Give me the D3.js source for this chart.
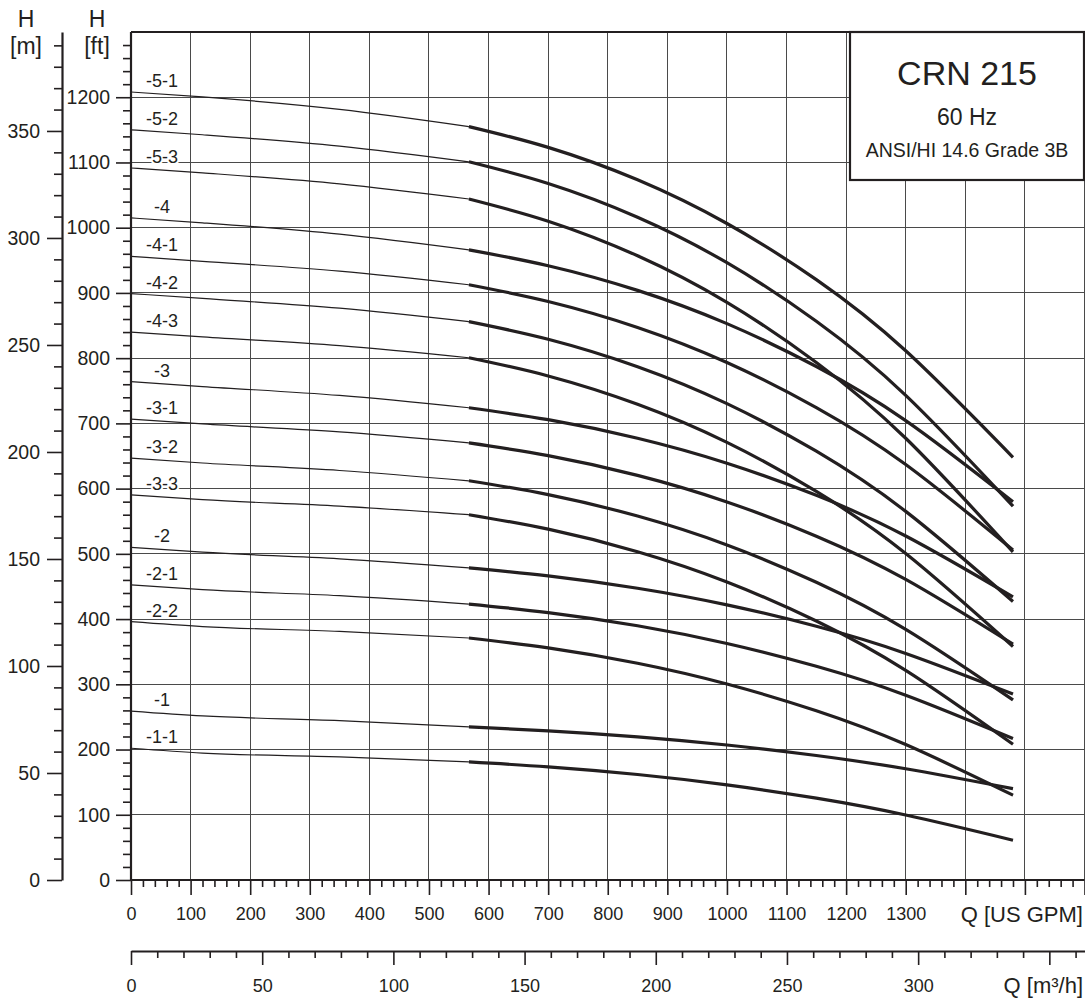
<!DOCTYPE html>
<html><head><meta charset="utf-8">
<script src="https://cdn.jsdelivr.net/npm/d3@7"></script>
<style>
html,body{margin:0;padding:0;background:#fff;}
svg{display:block;}
text{font-family:"Liberation Sans",Arial,Helvetica,sans-serif;fill:#231f20;}
</style></head><body>
<svg id="chart" width="1085" height="998"></svg>
<script>
// ---------------- data ----------------
const curveLabels = ["-5-1","-5-2","-5-3","-4","-4-1","-4-2","-4-3","-3","-3-1","-3-2","-3-3","-2","-2-1","-2-2","-1","-1-1"];
// thin (outside recommended range) part, flow in US GPM, head in ft
const flowThin = [0, 120, 350, 567];
const headThin = [
  [1208, 1200.5, 1181.4, 1155],
  [1150, 1142.5, 1125.1, 1101],
  [1091.5, 1084, 1067.2, 1044],
  [1015, 1007.5, 990.1, 966],
  [956, 948.5, 933.4, 912.5],
  [899, 891.5, 876.6, 856],
  [840, 832.5, 819.1, 800.6],
  [764, 756.5, 742.8, 724],
  [706.6, 699.1, 686.9, 670],
  [646.8, 639.3, 627.8, 612],
  [590.5, 583, 573.3, 560],
  [510, 502.5, 492.4, 478.5],
  [452.5, 445, 435.8, 423],
  [396, 388.5, 381.1, 371],
  [259, 251.5, 244.4, 234.7],
  [202, 194.5, 188.8, 181]
];
// thick (recommended range) part
const flowThick = [567, 700, 850, 1000, 1150, 1300, 1480];
const headThick = [
  [1155, 1123.1, 1073.4, 1006.4, 920.3, 811.3, 648],
  [1101, 1067.7, 1016.0, 946.3, 856.5, 743.0, 573],
  [1044, 1009.9, 956.9, 885.5, 793.4, 677.2, 503],
  [966, 941.7, 903.9, 852.9, 787.2, 704.3, 580],
  [912.5, 886.9, 847.1, 793.4, 724.2, 636.9, 506],
  [856, 829.0, 786.9, 730.3, 657.3, 565.1, 427],
  [800.6, 772.7, 729.3, 670.9, 595.6, 500.5, 358],
  [724, 705.7, 677.3, 639.0, 589.7, 527.4, 434],
  [670, 650.6, 620.3, 579.6, 527.1, 460.8, 361.5],
  [612, 590.8, 557.9, 513.6, 456.4, 384.2, 276],
  [560, 537.8, 503.3, 456.9, 397.0, 321.3, 208],
  [478.5, 466.3, 447.3, 421.8, 388.9, 347.3, 285],
  [423, 410.0, 389.8, 362.6, 327.6, 283.3, 217],
  [371, 355.8, 332.2, 300.4, 259.4, 207.6, 130],
  [234.7, 228.7, 219.5, 207.0, 190.9, 170.5, 140],
  [181, 173.4, 161.7, 145.8, 125.4, 99.6, 61]
];
const gpmTickLabels = [0,100,200,300,400,500,600,700,800,900,1000,1100,1200,1300];
const m3hTickLabels = [0,50,100,150,200,250,300];
const ftTickLabels = [0,100,200,300,400,500,600,700,800,900,1000,1100,1200];
const mTickLabels = [0,50,100,150,200,250,300,350];
const titleLines = ["CRN 215","60 Hz","ANSI/HI 14.6 Grade 3B"];
const GPM_MAX = 1600, FT_MAX = 1300;
const GPM_PER_M3H = 4.402868, M_PER_FT = 0.3048;

// ---------------- layout ----------------
const INK = "#231f20";
const X0 = 131, X1 = 1084.5, Y0 = 880, Y1 = 32;
const svg = d3.select("#chart");
const x = d3.scaleLinear().domain([0, GPM_MAX]).range([X0, X1]);
const xm = d3.scaleLinear().domain([0, GPM_MAX / GPM_PER_M3H]).range([X0, X1]);
const y = d3.scaleLinear().domain([0, FT_MAX]).range([Y0, Y1]);
const ym = d3.scaleLinear().domain([0, FT_MAX * M_PER_FT]).range([Y0, Y1]);
const fmt = d => String(d);

// grid
const grid = svg.append("g").attr("stroke", "#4a4a4a").attr("stroke-width", 1).attr("shape-rendering", "crispEdges");
grid.selectAll("line.v").data(d3.range(100, GPM_MAX + 1, 100)).join("line")
  .attr("x1", d => x(d)).attr("x2", d => x(d)).attr("y1", Y1).attr("y2", Y0);
grid.selectAll("line.h").data(d3.range(100, FT_MAX, 100)).join("line")
  .attr("class", "h").attr("x1", X0).attr("x2", X1).attr("y1", d => y(d)).attr("y2", d => y(d));

// curves
const line = d3.line().x(d => x(d[0])).y(d => y(d[1]));
const curves = svg.append("g").attr("fill", "none").attr("stroke", INK);
headThin.forEach((row, i) => {
  curves.append("path").attr("stroke-width", 1.2)
    .attr("d", line.curve(d3.curveMonotoneX)(flowThin.map((q, j) => [q, row[j]])));
  curves.append("path").attr("stroke-width", 3.2)
    .attr("d", line.curve(d3.curveNatural)(flowThick.map((q, j) => [q, headThick[i][j]])));
});

// curve labels
svg.append("g").selectAll("text").data(curveLabels).join("text")
  .attr("x", 162).attr("y", (d, i) => y(headThin[i][0]) - 5)
  .attr("text-anchor", "middle").attr("font-size", 18)
  .attr("stroke", "#fff").attr("stroke-width", 4).attr("paint-order", "stroke")
  .text(d => d);

// frame
const frame = svg.append("g").attr("stroke", INK).attr("stroke-width", 2.2);
frame.append("line").attr("x1", X0).attr("x2", X1).attr("y1", Y1).attr("y2", Y1);
frame.append("line").attr("x1", X0).attr("x2", X0).attr("y1", Y1).attr("y2", Y0);
frame.append("line").attr("x1", X0).attr("x2", X1).attr("y1", Y0).attr("y2", Y0);

function styleAxis(g, fontSize) {
  g.selectAll(".tick line").attr("stroke", INK).attr("stroke-width", 1.6);
  g.selectAll(".tick text").attr("font-size", fontSize).attr("fill", INK)
    .attr("font-family", '"Liberation Sans",Arial,sans-serif');
  g.select(".domain").attr("stroke", INK).attr("stroke-width", 2.2);
}
const notIn = (arr, step) => arr.filter(v => v % step !== 0);

// ft axis (left border)
const ftMajor = svg.append("g").attr("transform", `translate(${X0},0)`)
  .call(d3.axisLeft(y).tickValues(ftTickLabels).tickFormat(fmt).tickSize(15).tickPadding(6).tickSizeOuter(0));
ftMajor.select(".domain").remove(); styleAxis(ftMajor, 19.5);
const ftMinor = svg.append("g").attr("transform", `translate(${X0},0)`)
  .call(d3.axisLeft(y).tickValues(notIn(d3.range(0, FT_MAX, 20), 100)).tickSize(8).tickFormat("").tickSizeOuter(0));
ftMinor.select(".domain").remove(); styleAxis(ftMinor, 0);

// m axis
const mMajor = svg.append("g").attr("transform", "translate(62,0)")
  .call(d3.axisLeft(ym).tickValues(mTickLabels).tickFormat(fmt).tickSize(15).tickPadding(7).tickSizeOuter(0));
styleAxis(mMajor, 19.5);
const mMinor = svg.append("g").attr("transform", "translate(62,0)")
  .call(d3.axisLeft(ym).tickValues(notIn(d3.range(0, 396, 10), 50)).tickSize(8).tickFormat("").tickSizeOuter(0));
mMinor.select(".domain").remove(); styleAxis(mMinor, 0);

// GPM axis
const gMajor = svg.append("g").attr("transform", `translate(0,${Y0})`)
  .call(d3.axisBottom(x).tickValues(d3.range(0, GPM_MAX + 1, 100)).tickSize(15).tickPadding(12).tickSizeOuter(0)
    .tickFormat(d => gpmTickLabels.includes(d) ? String(d) : ""));
gMajor.select(".domain").remove(); styleAxis(gMajor, 18);
const gMinor = svg.append("g").attr("transform", `translate(0,${Y0})`)
  .call(d3.axisBottom(x).tickValues(notIn(d3.range(0, GPM_MAX, 20), 100)).tickSize(7).tickFormat("").tickSizeOuter(0));
gMinor.select(".domain").remove(); styleAxis(gMinor, 0);

// m3/h axis
const MY = 951;
const hMajor = svg.append("g").attr("transform", `translate(0,${MY})`)
  .call(d3.axisBottom(xm).tickValues(d3.range(0, 351, 50)).tickSize(14).tickPadding(14).tickSizeOuter(0)
    .tickFormat(d => m3hTickLabels.includes(d) ? String(d) : ""));
styleAxis(hMajor, 18);
const hMinor = svg.append("g").attr("transform", `translate(0,${MY})`)
  .call(d3.axisBottom(xm).tickValues(notIn(d3.range(0, 363, 10), 50)).tickSize(7).tickFormat("").tickSizeOuter(0));
hMinor.select(".domain").remove(); styleAxis(hMinor, 0);

// axis titles
const t = svg.append("g");
t.append("text").attr("x", 26).attr("y", 27).attr("text-anchor", "middle").attr("font-size", 23).text("H");
t.append("text").attr("x", 26).attr("y", 54).attr("text-anchor", "middle").attr("font-size", 23).text("[m]");
t.append("text").attr("x", 97).attr("y", 27).attr("text-anchor", "middle").attr("font-size", 23).text("H");
t.append("text").attr("x", 97).attr("y", 54).attr("text-anchor", "middle").attr("font-size", 23).text("[ft]");
t.append("text").attr("x", 1083).attr("y", 922).attr("text-anchor", "end").attr("font-size", 22).text("Q [US GPM]");
t.append("text").attr("x", 1083).attr("y", 993).attr("text-anchor", "end").attr("font-size", 22).text("Q [m³/h]");

// title box
const box = svg.append("g");
box.append("rect").attr("x", 850).attr("y", Y1).attr("width", 234).attr("height", 148)
  .attr("fill", "#fff").attr("stroke", INK).attr("stroke-width", 2.2);
const sizes = [34, 23, 19.5], ys = [85, 125, 157];
titleLines.forEach((s, i) => box.append("text").attr("x", 967).attr("y", ys[i])
  .attr("text-anchor", "middle").attr("font-size", sizes[i]).text(s));
</script>
</body></html>
